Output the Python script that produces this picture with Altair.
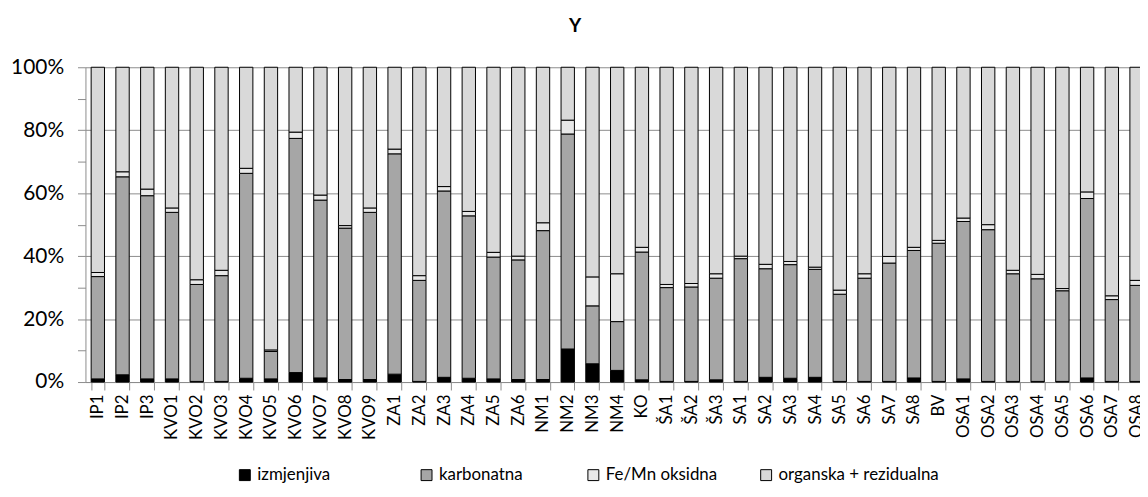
import altair as alt
import pandas as pd

categories = ["IP1", "IP2", "IP3", "KVO1", "KVO2", "KVO3", "KVO4", "KVO5", "KVO6", "KVO7",
              "KVO8", "KVO9", "ZA1", "ZA2", "ZA3", "ZA4", "ZA5", "ZA6", "NM1", "NM2",
              "NM3", "NM4", "KO", "ŠA1", "ŠA2", "ŠA3", "SA1", "SA2", "SA3", "SA4",
              "SA5", "SA6", "SA7", "SA8", "BV", "OSA1", "OSA2", "OSA3", "OSA4", "OSA5",
              "OSA6", "OSA7", "OSA8"]

izmjenjiva = [1.0, 2.3, 1.0, 1.0, 0.2, 0.2, 1.2, 1.0, 3.0, 1.3,
              0.8, 0.8, 2.5, 0.2, 1.5, 1.2, 1.0, 0.8, 0.8, 10.5,
              5.8, 3.7, 0.7, 0.2, 0.2, 0.7, 0.2, 1.5, 1.2, 1.5,
              0.2, 0.2, 0.2, 1.3, 0.2, 1.0, 0.2, 0.2, 0.2, 0.2,
              1.3, 0.2, 0.2]
karbonatna = [32.5, 62.9, 58.2, 52.9, 30.8, 33.6, 65.1, 8.7, 74.4, 56.5,
              48.1, 53.1, 70.0, 32.1, 59.2, 51.6, 38.7, 38.0, 47.3, 68.3,
              18.4, 15.5, 40.6, 29.8, 30.0, 32.3, 39.0, 34.5, 36.1, 34.3,
              27.7, 32.8, 37.6, 40.5, 43.9, 50.0, 48.2, 34.2, 32.6, 28.8,
              57.0, 26.0, 30.5]
fe_mn = [1.3, 1.6, 2.1, 1.4, 1.5, 1.7, 1.6, 0.5, 2.0, 1.6,
         0.8, 1.4, 1.5, 1.5, 1.4, 1.4, 1.5, 1.2, 2.5, 4.4,
         9.2, 15.2, 1.5, 1.0, 1.1, 1.4, 0.8, 1.4, 1.0, 0.7,
         1.3, 1.4, 2.1, 1.0, 0.9, 1.1, 1.6, 1.1, 1.4, 0.7,
         2.1, 1.2, 1.6]
organska = [65.2, 33.2, 38.7, 44.7, 67.5, 64.5, 32.1, 89.8, 20.6, 40.6,
            50.3, 44.7, 26.0, 66.2, 37.9, 45.8, 58.8, 60.0, 49.4, 16.8,
            66.6, 65.6, 57.2, 69.0, 68.7, 65.6, 60.0, 62.6, 61.7, 63.5,
            70.8, 65.6, 60.1, 57.2, 55.0, 47.9, 50.0, 64.5, 65.8, 70.3,
            39.6, 72.6, 67.7]

series_names = ["izmjenjiva", "karbonatna", "Fe/Mn oksidna", "organska + rezidualna"]
series_colors = ["#000000", "#A6A6A6", "#E8E8E8", "#D9D9D9"]

rows = []
for i, cat in enumerate(categories):
    for k, (name, vals) in enumerate(zip(series_names, [izmjenjiva, karbonatna, fe_mn, organska])):
        rows.append({"uzorak": cat, "frakcija": name, "udio": vals[i] / 100.0, "red": k})
df = pd.DataFrame(rows)

FONT = "Lato"
AXIS_GRAY = "#8c8c8c"

# invisible trailing room (no-break spaces closed by a zero-width space) so the
# legend entries sit where they do in the original
NB = "\u00a0"
ZW = "\u200b"
legend_label_expr = (
    "datum.label == 'izmjenjiva' ? datum.label + '" + NB * 11 + ZW + "' : "
    "datum.label == 'karbonatna' ? datum.label + '" + NB * 5 + ZW + "' : datum.label"
)

chart = alt.Chart(df).mark_bar(stroke="black", strokeWidth=1).encode(
    x=alt.X(
        "uzorak:N",
        sort=categories,
        scale=alt.Scale(paddingInner=0.46, paddingOuter=0.23, range=[0, 1071]),
        axis=alt.Axis(
            title=None, labelAngle=270, labelAlign="right", labelBaseline="middle",
            labelFontSize=17, labelFont=FONT, labelColor="black", labelPadding=4,
            tickBand="extent", tickSize=8, tickColor=AXIS_GRAY, domainColor=AXIS_GRAY,
            grid=False, labelOverlap=False,
        ),
    ),
    y=alt.Y(
        "udio:Q",
        stack="zero",
        scale=alt.Scale(domain=[0, 1], nice=False, clamp=True),
        axis=alt.Axis(
            title=None,
            values=[i / 10 for i in range(11)],
            format=".0%",
            labelExpr="round(datum.value*10)%2==0 ? datum.label : ''",
            gridOpacity={"condition": {"test": "round(datum.value*10)%2==0", "value": 1}, "value": 0},
            gridColor=AXIS_GRAY, tickSize=8, tickColor=AXIS_GRAY, domainColor=AXIS_GRAY,
            labelFontSize=21, labelFont=FONT, labelColor="black", labelPadding=14,
            minExtent=78, maxExtent=78,
        ),
    ),
    color=alt.Color(
        "frakcija:N",
        scale=alt.Scale(domain=series_names, range=series_colors),
        legend=alt.Legend(
            title=None, orient="none", legendX=152, legendY=402, direction="horizontal",
            symbolType="square", symbolSize=121, symbolStrokeColor="black", symbolStrokeWidth=1,
            symbolOpacity=1, labelFontSize=17, labelFont=FONT, labelColor="black",
            columnPadding=40, labelOffset=4, labelLimit=0, labelExpr=legend_label_expr,
        ),
    ),
    order=alt.Order("red:Q", sort="ascending"),
).properties(
    width=1062,
    height=317,
    autosize=alt.AutoSizeParams(type="none"),
    padding={"top": 58, "left": 78, "right": 0, "bottom": 101},
    title=alt.TitleParams("Y", fontSize=19, fontWeight="bold", font=FONT, color="black",
                          anchor="middle", dx=-38, offset=21),
).configure_view(stroke=None)

chart.save("out.html", embed_options={"renderer": "svg", "actions": False})
